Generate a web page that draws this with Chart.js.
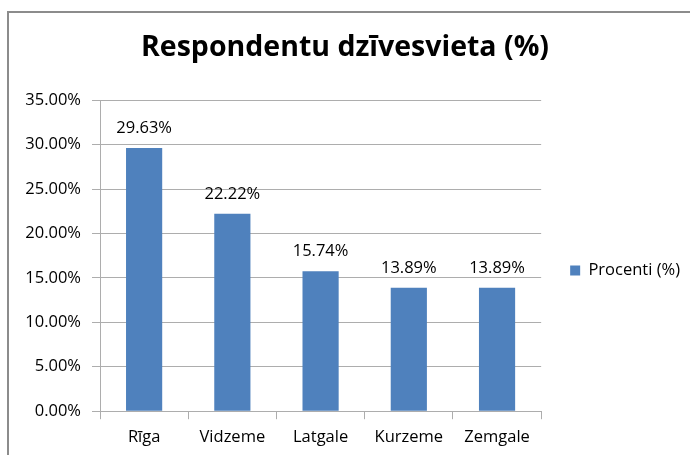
<!DOCTYPE html>
<html>
<head>
<meta charset="utf-8">
<script src="https://cdn.jsdelivr.net/npm/chart.js@4/dist/chart.umd.min.js"></script>
<style>
  html, body { margin: 0; padding: 0; background: #fff; }
  #wrap { position: relative; width: 690px; height: 455px; overflow: hidden; }
  #frame { position: absolute; left: 7px; top: 11px; width: 800px; height: 600px; border: 2px solid #8c8c8c; box-sizing: border-box; }
  canvas { position: absolute; left: 0; top: 0; }
</style>
</head>
<body>
<div id="wrap">
  <div id="frame"></div>
  <canvas id="chart" width="690" height="455"></canvas>
</div>
<script>
const regioni = ['Rīga', 'Vidzeme', 'Latgale', 'Kurzeme', 'Zemgale'];
const procenti = [29.63, 22.22, 15.74, 13.89, 13.89];
const yTicks = [0, 5, 10, 15, 20, 25, 30, 35];

const fontFam = "'Open Sans', 'Noto Sans', sans-serif";
const txtSize = 16.5;
const gridColor = '#adadad';

// etiķetes virs stabiņiem
const vertibas = {
  id: 'vertibas',
  afterDatasetsDraw(chart) {
    const c = chart.ctx;
    const meta = chart.getDatasetMeta(0);
    c.save();
    c.font = txtSize + 'px ' + fontFam;
    c.fillStyle = '#000';
    c.textAlign = 'center';
    c.textBaseline = 'alphabetic';
    meta.data.forEach((bar, i) => {
      c.fillText(procenti[i].toFixed(2) + '%', bar.x, bar.y - 15);
    });
    c.restore();
  }
};

new Chart(document.getElementById('chart'), {
  type: 'bar',
  data: {
    labels: regioni,
    datasets: [{
      label: 'Procenti (%)',
      data: procenti,
      backgroundColor: '#4f81bd',
      barPercentage: 0.41,
      categoryPercentage: 1
    }]
  },
  options: {
    responsive: false,
    animation: false,
    layout: { padding: { left: 0, right: 0, top: 24, bottom: 0 } },
    plugins: {
      title: {
        display: true,
        text: 'Respondentu dzīvesvieta (%)',
        color: '#000',
        font: { family: fontFam, size: 28.5, weight: 'bold', lineHeight: 1.2 },
        padding: { top: 7, bottom: 35 }
      },
      legend: {
        position: 'right',
        title: { display: true, text: ' ', font: { size: 10 }, padding: 25 },
        labels: {
          color: '#000',
          font: { family: fontFam, size: txtSize },
          boxWidth: 10,
          boxHeight: 10,
          padding: 29
        }
      },
      tooltip: { enabled: false }
    },
    scales: {
      x: {
        grid: { offset: true, drawOnChartArea: false, color: gridColor, tickLength: 8 },
        border: { color: gridColor },
        ticks: { color: '#000', font: { family: fontFam, size: txtSize }, padding: 8 }
      },
      y: {
        min: 0,
        max: 35,
        afterFit(scale) { scale.width = 100; },
        afterBuildTicks(scale) { scale.ticks = yTicks.map(v => ({ value: v })); },
        grid: { color: gridColor, tickLength: 8 },
        border: { color: gridColor },
        ticks: {
          color: '#000',
          font: { family: fontFam, size: txtSize },
          padding: 11,
          callback: v => v.toFixed(2) + '%'
        }
      }
    }
  },
  plugins: [vertibas]
});
</script>
</body>
</html>
